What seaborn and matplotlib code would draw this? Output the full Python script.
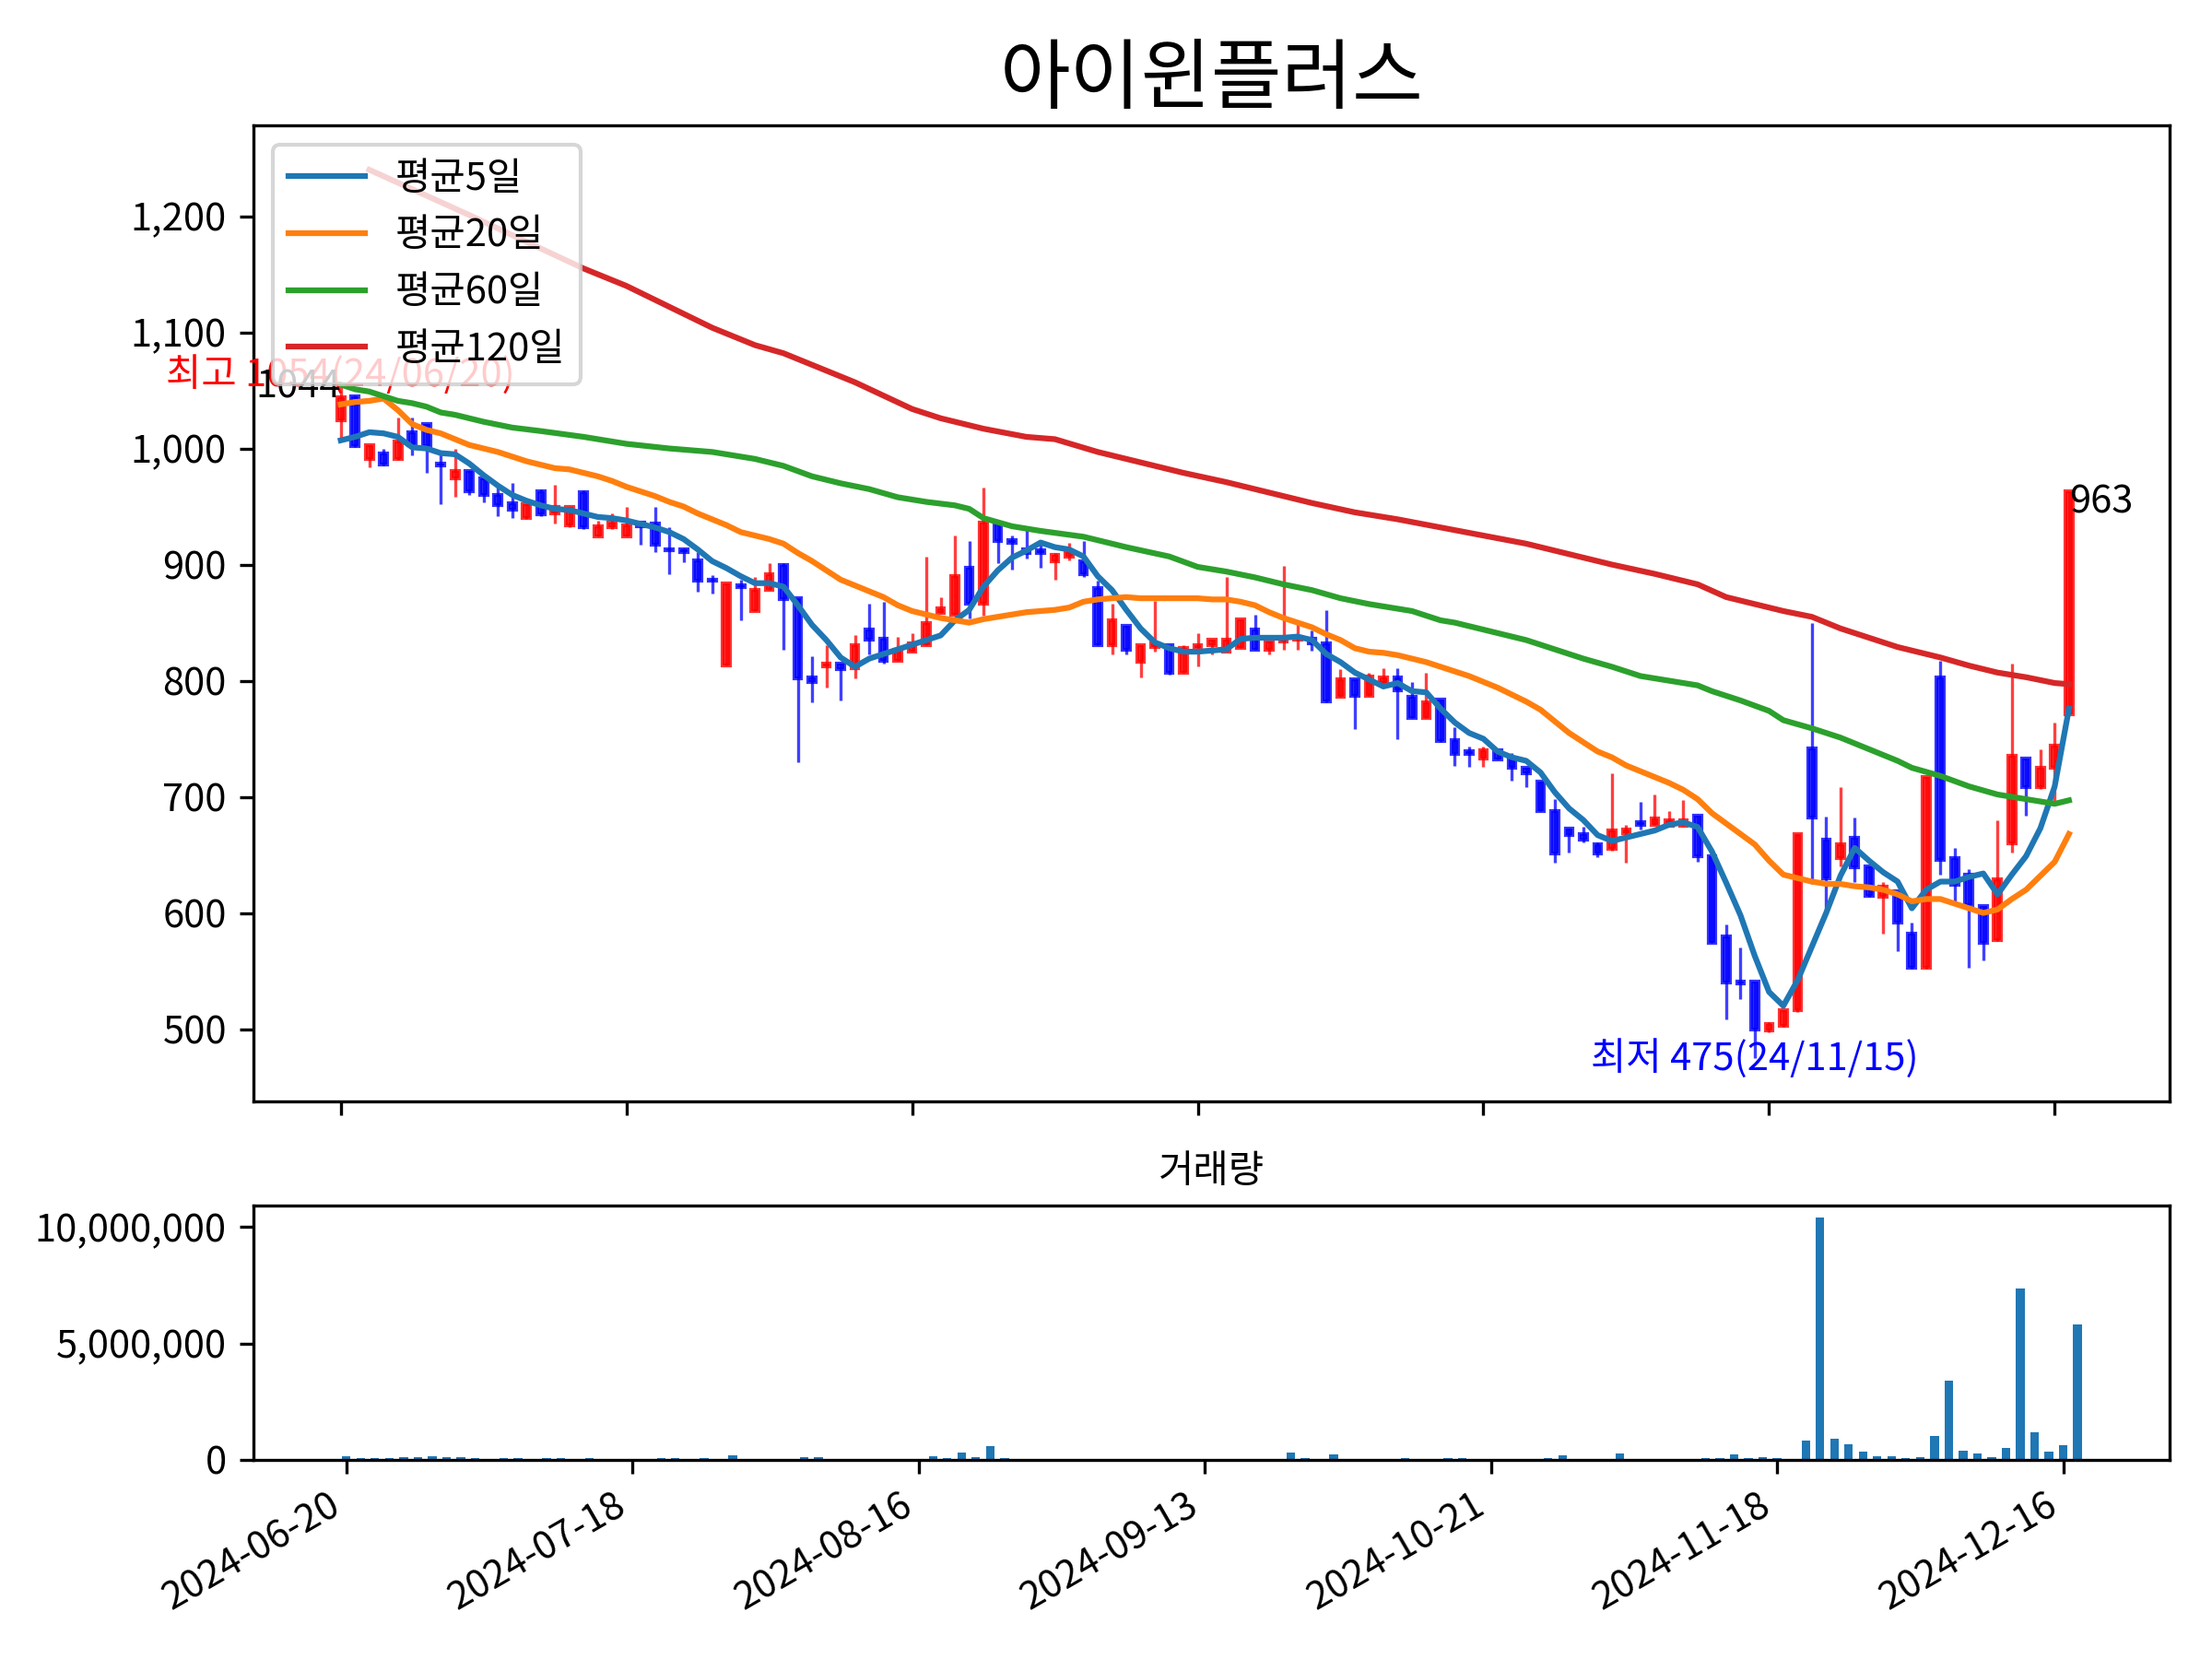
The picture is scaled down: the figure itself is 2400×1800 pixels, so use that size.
import numpy as np
import matplotlib
matplotlib.use("Agg")
import matplotlib.pyplot as plt
from matplotlib.ticker import FuncFormatter, MultipleLocator
import seaborn as sns

plt.rcParams['font.family'] = ['Noto Sans CJK KR', 'DejaVu Sans']
plt.rcParams['axes.unicode_minus'] = False

# ---- data (one candle per trading day) ----
title = '아이윈플러스'
tick_labels = ['2024-06-20', '2024-07-18', '2024-08-16', '2024-09-13',
               '2024-10-21', '2024-11-18', '2024-12-16']
high_date = '24/06/20'
low_date = '24/11/15'

opens = [1024, 1045, 991, 996, 991, 1014, 1021, 987, 974, 981,
         974, 960, 953, 940, 963, 944, 934, 962, 924, 932,
         924, 936, 935, 913, 913, 904, 887, 813, 882, 860,
         878, 900, 871, 803, 812, 815, 811, 844, 836, 817,
         825, 831, 858, 857, 897, 866, 935, 921, 913, 912,
         903, 907, 903, 880, 831, 847, 816, 829, 831, 807,
         828, 831, 825, 828, 844, 827, 834, 835, 836, 832,
         786, 801, 787, 798, 803, 786, 768, 784, 749, 739,
         733, 740, 733, 725, 713, 688, 673, 668, 659, 655,
         669, 678, 676, 675, 675, 684, 649, 580, 541, 541,
         499, 503, 516, 742, 663, 647, 665, 640, 614, 619,
         582, 553, 803, 647, 633, 606, 577, 660, 733, 708,
         725, 771]
highs = [1054, 1046, 1003, 1000, 1027, 1027, 1021, 995, 1000, 981,
         974, 967, 970, 952, 965, 969, 950, 964, 938, 944,
         950, 937, 950, 932, 914, 911, 891, 884, 887, 889,
         901, 901, 871, 821, 831, 815, 839, 866, 868, 838,
         841, 907, 872, 925, 920, 966, 935, 925, 933, 918,
         910, 919, 920, 886, 866, 847, 831, 869, 831, 831,
         841, 835, 889, 853, 857, 834, 899, 849, 843, 861,
         810, 801, 807, 811, 811, 799, 807, 784, 760, 743,
         743, 740, 738, 725, 713, 698, 673, 674, 661, 720,
         676, 696, 702, 688, 697, 684, 649, 590, 570, 541,
         506, 516, 668, 850, 683, 708, 682, 640, 627, 619,
         592, 717, 817, 656, 638, 606, 680, 815, 733, 741,
         764, 963]
lows = [1009, 1001, 984, 985, 990, 994, 979, 952, 958, 960,
        954, 942, 940, 939, 942, 935, 932, 931, 924, 931,
        924, 917, 911, 892, 902, 877, 875, 813, 852, 860,
        878, 827, 730, 781, 794, 783, 802, 823, 815, 817,
        825, 831, 858, 857, 854, 856, 901, 896, 905, 897,
        887, 904, 889, 831, 823, 823, 803, 825, 805, 807,
        812, 823, 825, 828, 827, 823, 827, 827, 826, 781,
        786, 758, 787, 797, 750, 768, 768, 747, 727, 726,
        726, 732, 714, 708, 688, 643, 652, 661, 648, 654,
        643, 672, 676, 675, 675, 644, 574, 508, 526, 475,
        497, 502, 515, 625, 603, 640, 627, 614, 582, 567,
        552, 552, 633, 610, 553, 559, 576, 652, 684, 707,
        693, 771]
closes = [1044, 1002, 1003, 986, 1006, 1003, 1002, 985, 981, 963,
          960, 951, 947, 952, 943, 950, 950, 932, 933, 936,
          934, 933, 917, 912, 911, 886, 886, 884, 881, 878,
          892, 870, 802, 799, 815, 810, 831, 835, 817, 827,
          832, 850, 862, 890, 866, 936, 920, 919, 910, 910,
          908, 911, 892, 831, 852, 827, 831, 832, 807, 828,
          831, 835, 835, 853, 827, 834, 835, 837, 832, 782,
          801, 787, 804, 803, 792, 768, 781, 748, 737, 737,
          740, 732, 725, 720, 688, 651, 667, 663, 651, 671,
          672, 676, 681, 680, 680, 649, 574, 540, 539, 500,
          504, 516, 668, 682, 630, 659, 639, 615, 623, 592,
          553, 717, 646, 624, 607, 574, 629, 735, 708, 725,
          744, 963]
volumes = [145000, 66000, 66000, 66000, 106000, 106000, 145000, 106000, 106000, 66000,
           15000, 66000, 66000, 15000, 66000, 66000, 15000, 66000, 15000, 15000,
           15000, 15000, 66000, 66000, 15000, 66000, 15000, 185000, 15000, 15000,
           15000, 15000, 106000, 106000, 15000, 15000, 15000, 15000, 15000, 15000,
           15000, 145000, 66000, 304000, 106000, 580000, 66000, 15000, 15000, 15000,
           15000, 15000, 15000, 15000, 15000, 15000, 15000, 15000, 15000, 15000,
           15000, 15000, 15000, 15000, 15000, 15000, 304000, 66000, 15000, 225000,
           15000, 15000, 15000, 15000, 66000, 15000, 15000, 66000, 66000, 15000,
           15000, 15000, 15000, 15000, 66000, 185000, 15000, 15000, 15000, 264000,
           15000, 15000, 15000, 15000, 15000, 66000, 66000, 225000, 66000, 106000,
           66000, 15000, 820000, 10400000, 900000, 660000, 344000, 145000, 145000, 66000,
           106000, 1020000, 3420000, 380000, 260000, 106000, 500000, 7370000, 1180000, 340000,
           620000, 5800000]

# moving averages as drawn on the chart
ma5 = [1007, 1010, 1014, 1013, 1010, 1001, 1000, 996, 995, 987,
       977, 968, 960, 955, 951, 948, 947, 944, 941, 940,
       938, 935, 932, 928, 922, 913, 903, 897, 890, 884,
       884, 881, 865, 848, 835, 820, 812, 819, 823, 827,
       831, 835, 839, 852, 861, 881, 895, 906, 912, 919,
       915, 913, 907, 890, 878, 861, 845, 833, 828, 825,
       825, 826, 827, 836, 837, 837, 837, 838, 835, 823,
       816, 807, 801, 795, 798, 791, 790, 776, 764, 755,
       750, 739, 734, 731, 721, 704, 690, 680, 667, 662,
       665, 668, 671, 676, 678, 674, 653, 626, 598, 563,
       532, 520, 542, 571, 600, 632, 656, 645, 635, 627,
       604, 620, 627, 627, 631, 634, 616, 633, 649, 673,
       709, 776]
ma20 = [1038, 1040, 1041, 1043, 1033, 1021, 1016, 1013, 1008, 1003,
        1000, 997, 993, 989, 986, 983, 982, 979, 976, 972,
        967, 963, 959, 954, 950, 944, 939, 934, 928, 925,
        922, 918, 910, 903, 895, 887, 882, 877, 872, 865,
        860, 857, 854, 852, 850, 853, 855, 857, 859, 860,
        861, 863, 868, 870, 871, 872, 871, 871, 871, 871,
        871, 870, 870, 868, 865, 859, 854, 850, 846, 840,
        835, 828, 825, 824, 822, 819, 816, 812, 808, 804,
        799, 794, 788, 782, 775, 765, 755, 747, 739, 734,
        727, 722, 717, 712, 706, 698, 686, 677, 668, 659,
        645, 633, 630, 627, 625, 625, 623, 622, 620, 616,
        610, 612, 612, 608, 604, 600, 603, 612, 620, 632,
        644, 668]
ma60_x = [0, 1, 2, 3, 4, 5, 6, 7, 8, 10, 12, 14, 17, 20, 23, 26, 29, 31, 33, 35,
          37, 39, 41, 43, 44, 45, 47, 49, 52, 55, 58, 60, 62, 64, 66, 68, 70, 72,
          74, 75, 77, 78, 80, 81, 83, 85, 87, 89, 91, 93, 95, 96, 98, 100, 101,
          103, 105, 107, 109, 110, 112, 114, 116, 118, 120, 121]
ma60_y = [1055, 1051, 1049, 1045, 1041, 1039, 1036, 1031, 1029, 1023, 1018, 1015,
          1010, 1004, 1000, 997, 991, 985, 976, 970, 965, 958, 954, 951, 948, 940,
          933, 929, 924, 915, 907, 898, 894, 889, 883, 878, 871, 866, 862, 860,
          852, 850, 844, 841, 835, 827, 819, 812, 804, 800, 796, 791, 783, 774,
          766, 759, 751, 741, 731, 725, 718, 709, 702, 698, 694, 697]
ma120_x = [2, 9, 17, 20, 23, 26, 29, 31, 36, 40, 42, 45, 48, 50, 53, 56, 59, 62,
           65, 68, 71, 74, 77, 80, 83, 86, 89, 92, 95, 97, 99, 101, 103, 105, 107,
           109, 110, 112, 114, 116, 118, 120, 121]
ma120_y = [1240, 1201, 1155, 1140, 1122, 1104, 1089, 1082, 1057, 1034, 1026, 1017,
           1010, 1008, 997, 988, 979, 971, 962, 953, 945, 939, 932, 925, 918, 909,
           900, 892, 883, 872, 866, 860, 855, 845, 837, 829, 826, 820, 813, 807,
           803, 798, 797]

# ---- figure ----
o = np.array(opens)
h = np.array(highs)
l = np.array(lows)
c = np.array(closes)
idx = np.arange(len(c))
colors = np.where(c >= o, 'red', 'blue')

fig = plt.figure(figsize=(8, 6), dpi=300)
ax1 = fig.add_axes([0.1146, 0.3361, 0.8662, 0.5883])
ax2 = fig.add_axes([0.1146, 0.1200, 0.8662, 0.1534])

# candles: wick + body
ax1.vlines(idx, l, h, colors=colors, linewidth=0.8, alpha=0.75, zorder=1)
ax1.bar(idx, np.abs(c - o), bottom=np.minimum(o, c), width=0.5, color=colors,
        edgecolor=colors, linewidth=1, alpha=0.8, zorder=2)

# moving averages
sns.lineplot(x=idx, y=ma5, ax=ax1, color='tab:blue', label='평균5일', zorder=3)
sns.lineplot(x=idx, y=ma20, ax=ax1, color='tab:orange', label='평균20일', zorder=3)
sns.lineplot(x=ma60_x, y=ma60_y, ax=ax1, color='tab:green', label='평균60일', zorder=3)
sns.lineplot(x=ma120_x, y=ma120_y, ax=ax1, color='tab:red', label='평균120일', zorder=3)

# high / low / first / last labels
hi = int(np.argmax(h))
lo = int(np.argmin(l))
ax1.text(hi, h[hi], f'최고 {h[hi]}({high_date})', color='red', ha='center', va='baseline')
ax1.text(0, c[0], f'{c[0]}', ha='right', va='baseline')
ax1.text(idx[-1], 954, f'{c[-1]}', ha='left', va='center')
ax1.text(lo, l[lo], f'최저 {l[lo]}({low_date})', color='blue', ha='center', va='center')

ax1.legend(loc='upper left')
ax1.set_title(title, fontsize=20)
ax1.set_xlim(-6.11, 128.04)
ax1.set_ylim(437.7, 1278.2)
ax1.yaxis.set_major_locator(MultipleLocator(100))
ax1.yaxis.set_major_formatter(FuncFormatter(lambda v, _: f'{v:,.0f}'))
ax1.set_xticks(range(0, len(idx), 20))
ax1.tick_params(labelbottom=False)
ax1.set_xlabel('')
ax1.set_ylabel('')

# volume
sns.barplot(x=idx, y=volumes, ax=ax2, native_scale=True, width=0.6,
            color='#1f77b4', saturation=1, errorbar=None)
ax2.set_title('거래량', fontsize=10)
ax2.set_xlim(-6.49, 127.43)
ax2.yaxis.set_major_locator(MultipleLocator(5000000))
ax2.yaxis.set_major_formatter(FuncFormatter(lambda v, _: f'{v:,.0f}'))
ax2.set_xticks(range(0, len(idx), 20))
ax2.set_xticklabels(tick_labels, rotation=30, ha='right')
ax2.set_xlabel('')
ax2.set_ylabel('')

fig.savefig('out.png', dpi=300)
